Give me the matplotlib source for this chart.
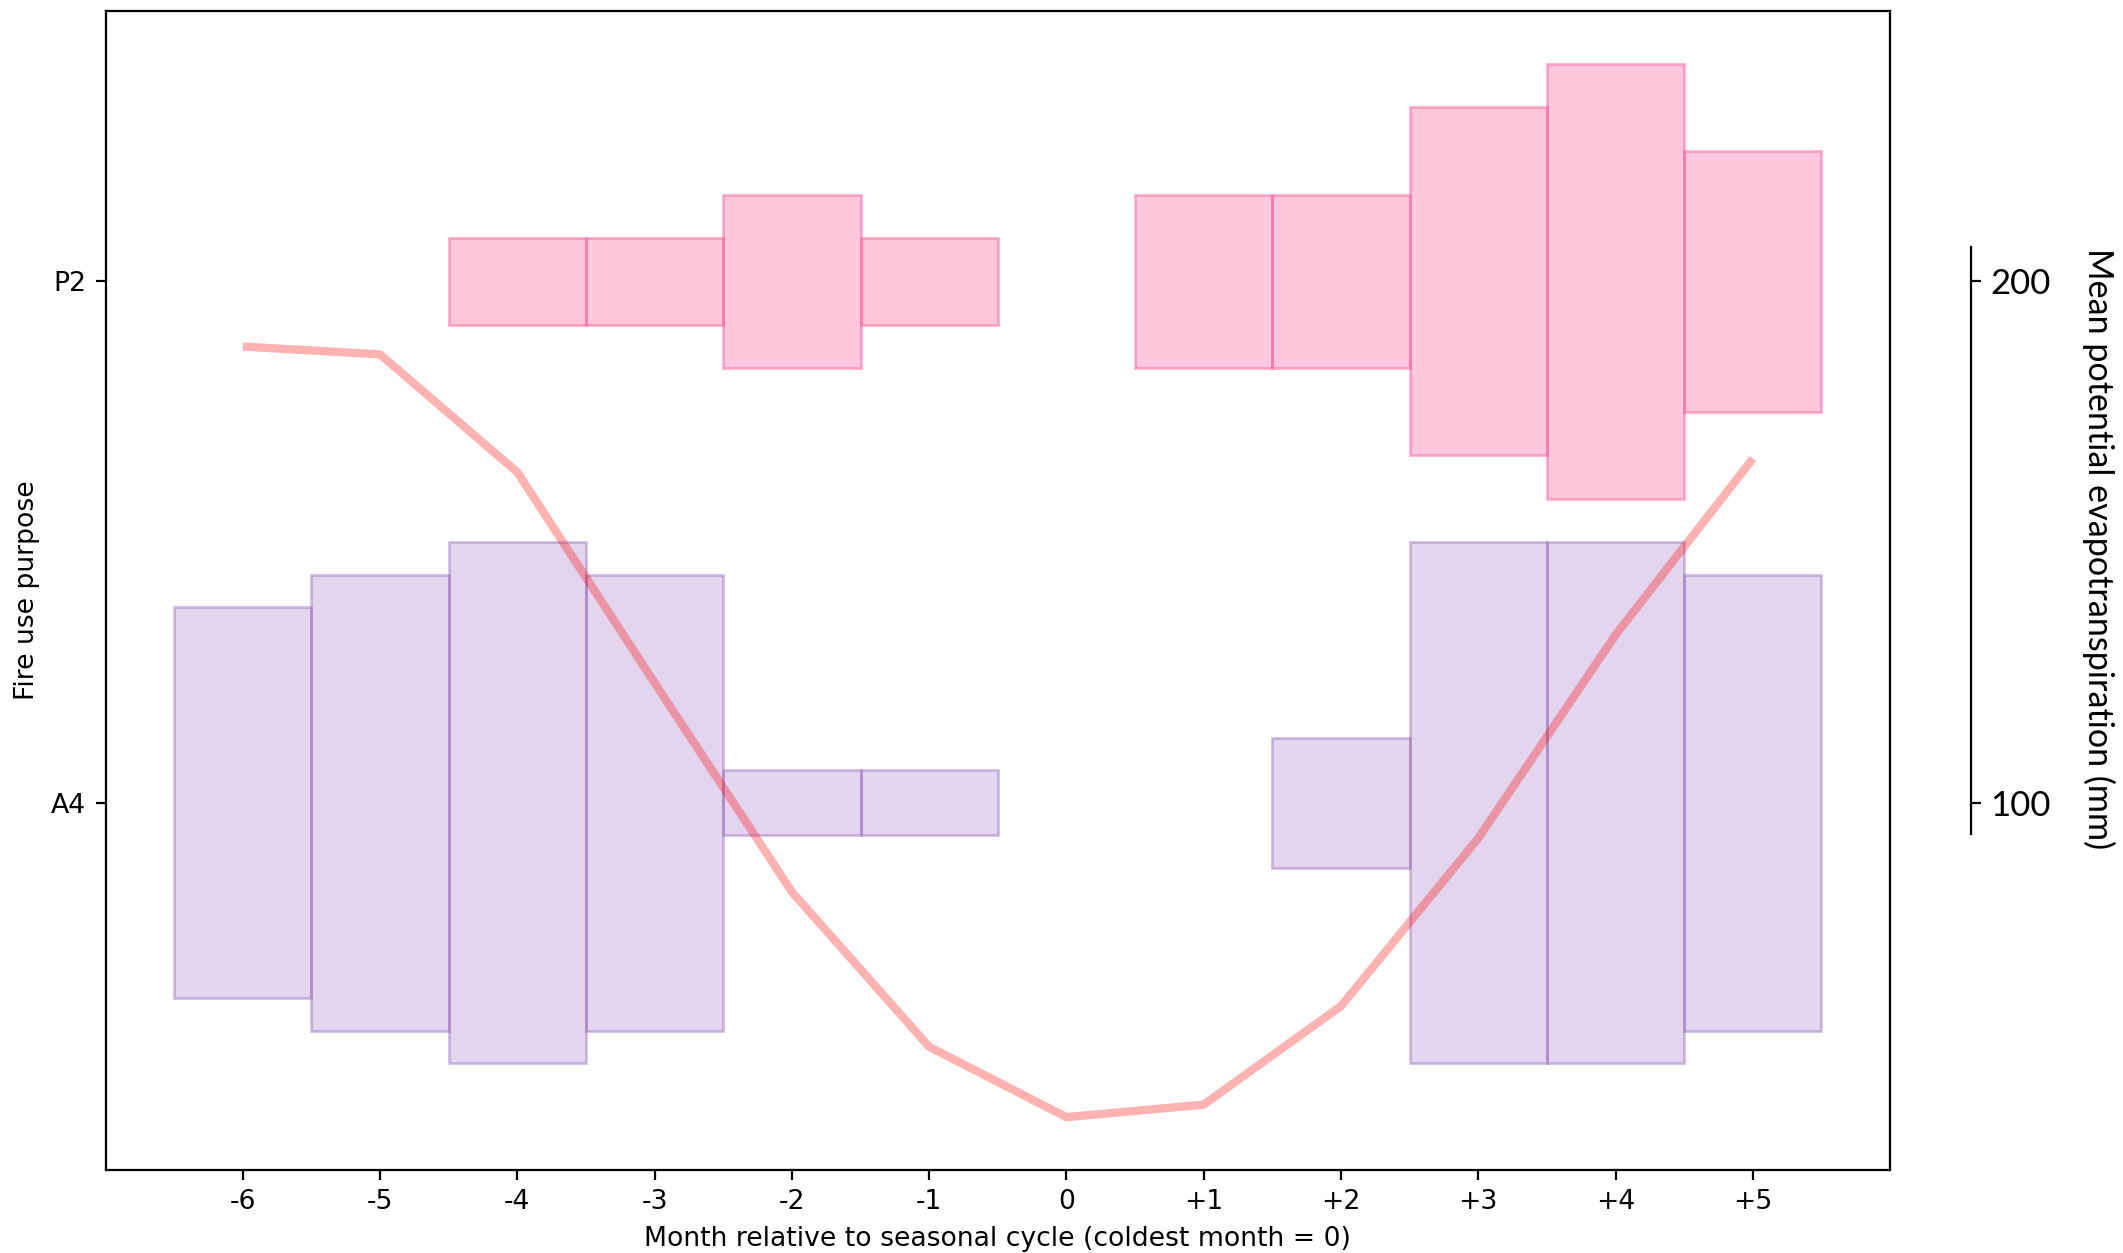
import numpy as np
import matplotlib
matplotlib.use('Agg')
import matplotlib.pyplot as plt

months = [-6, -5, -4, -3, -2, -1, 0, 1, 2, 3, 4, 5]
month_labels = ['-6', '-5', '-4', '-3', '-2', '-1', '0', '+1', '+2', '+3', '+4', '+5']

purposes = ['A4', 'P2']
# relative bar heights per month (row units)
a4_heights = [0.75, 0.875, 1.0, 0.875, 0.125, 0.125, 0, 0, 0.25, 1.0, 1.0, 0.875]
p2_heights = [0, 0, 0.167, 0.167, 0.333, 0.167, 0, 0.333, 0.333, 0.667, 0.833, 0.5]

# mean potential evapotranspiration (mm)
pet = [187.5, 186, 163.4, 123, 82.9, 53.2, 39.7, 42.1, 61, 93.2, 132.2, 166]

row_colors = {'A4': '#9467bd', 'P2': '#ff5a96'}
row_alpha = {'A4': 0.27, 'P2': 0.33}

plt.rcParams['font.size'] = 9.6

fig = plt.figure(figsize=(10.615, 6.265), dpi=200)
ax = fig.add_axes([0.0497, 0.0664, 0.8406, 0.9250])

for i, (name, heights) in enumerate(zip(purposes, [a4_heights, p2_heights])):
    x = np.array([m for m, h in zip(months, heights) if h > 0])
    h = np.array([h for h in heights if h > 0])
    col = row_colors[name]
    ax.bar(x, h, width=1.0, bottom=i - h / 2,
           color=matplotlib.colors.to_rgba(col, row_alpha[name]),
           edgecolor=matplotlib.colors.to_rgba(col, row_alpha[name] + 0.15),
           linewidth=1.0)

ax.set_xlim(-7, 6)
ax.set_ylim(-0.704, 1.519)
ax.set_xticks(months)
ax.set_xticklabels(month_labels)
ax.set_yticks(range(len(purposes)))
ax.set_yticklabels(purposes)
ax.set_xlabel('Month relative to seasonal cycle (coldest month = 0)')
ax.set_ylabel('Fire use purpose')

ax2 = ax.twinx()
ax2.plot(months, pet, color='red', alpha=0.3, linewidth=3.0, solid_capstyle='butt')
ax2.set_ylim(29.6, 251.9)
ax2.set_yticks([100, 200])
for s in ['top', 'bottom', 'left']:
    ax2.spines[s].set_visible(False)
ax2.spines['right'].set_position(('outward', 29))
ax2.spines['right'].set_bounds(94, 206.5)
ax2.tick_params(axis='y', labelsize=12.5)
for t in ax2.get_yticklabels():
    t.set_fontfamily('Lato')
ax2.set_ylabel('Mean potential evapotranspiration (mm)', fontsize=12.3,
               family='Lato', rotation=270, va='center', ha='center')
ax2.yaxis.set_label_coords(1.117, 0.536)

fig.savefig('out.png', dpi=200)
